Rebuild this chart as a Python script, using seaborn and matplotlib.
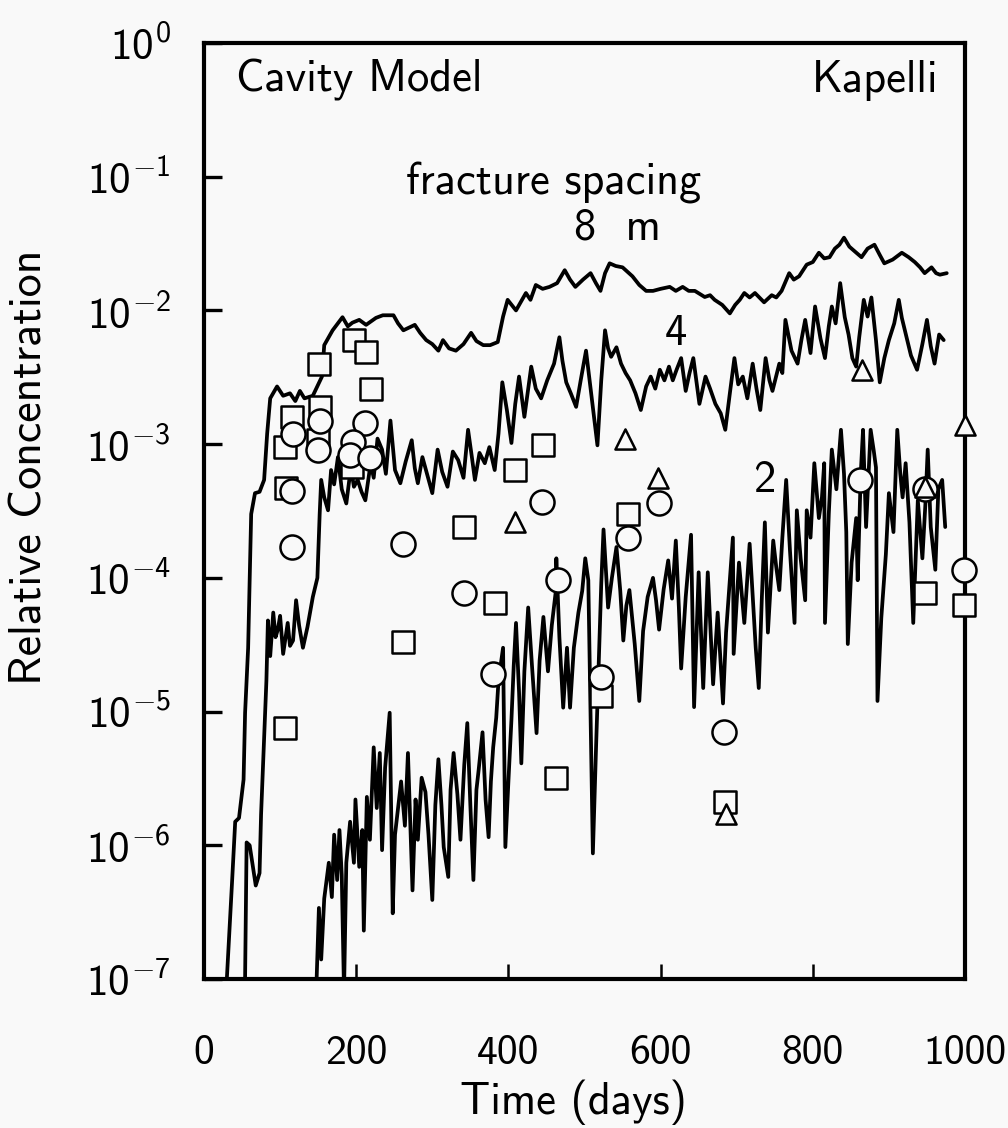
import matplotlib
matplotlib.use("Agg")
import matplotlib.pyplot as plt
import seaborn as sns
import pandas as pd

# ---------------- data ----------------
# (time in days, relative concentration)
line_8m = [(28, 1e-8), (30, 1e-7), (37, 5.5e-7), (41, 1.5e-6), (46, 1.6e-6), (52, 3.1e-6),
           (54, 9.8e-6), (58, 3.0e-5), (60, 9.6e-5), (62, 3.0e-4), (67, 4.3e-4), (73, 4.4e-4),
           (79, 5.4e-4), (83, 1.2e-3), (87, 2.2e-3), (96, 2.7e-3), (104, 2.3e-3), (113, 2.4e-3),
           (120, 2.1e-3), (126, 2.5e-3), (132, 2.2e-3), (143, 2.3e-3), (155, 3.2e-3), (158, 5.5e-3),
           (169, 7.1e-3), (182, 8.9e-3), (189, 7.6e-3), (195, 8.1e-3), (204, 8.5e-3), (213, 7.8e-3),
           (226, 8.8e-3), (235, 9.2e-3), (249, 9.2e-3), (255, 8.0e-3), (262, 7.1e-3), (277, 7.8e-3),
           (284, 6.8e-3), (292, 6.0e-3), (300, 5.6e-3), (308, 5.0e-3), (314, 6.0e-3), (322, 5.2e-3),
           (331, 5.0e-3), (341, 5.6e-3), (351, 6.8e-3), (358, 5.9e-3), (367, 5.5e-3), (376, 5.5e-3),
           (386, 5.8e-3), (393, 9.0e-3), (399, 1.2e-2), (410, 1.0e-2), (423, 1.35e-2), (429, 1.2e-2),
           (436, 1.55e-2), (445, 1.45e-2), (454, 1.5e-2), (464, 1.6e-2), (474, 2.0e-2), (481, 1.7e-2),
           (488, 1.5e-2), (498, 1.7e-2), (508, 1.9e-2), (515, 1.6e-2), (521, 1.4e-2), (527, 1.9e-2),
           (533, 2.25e-2), (541, 2.15e-2), (550, 2.1e-2), (563, 1.8e-2), (572, 1.55e-2), (581, 1.4e-2),
           (590, 1.4e-2), (600, 1.45e-2), (612, 1.5e-2), (620, 1.4e-2), (629, 1.5e-2), (637, 1.4e-2),
           (645, 1.4e-2), (658, 1.26e-2), (665, 1.3e-2), (671, 1.2e-2), (681, 1.1e-2), (691, 9.5e-3),
           (698, 1.1e-2), (704, 1.2e-2), (710, 1.35e-2), (717, 1.25e-2), (724, 1.35e-2), (736, 1.15e-2),
           (746, 1.3e-2), (752, 1.25e-2), (759, 1.4e-2), (769, 1.9e-2), (775, 1.7e-2), (782, 1.8e-2),
           (792, 2.2e-2), (800, 2.3e-2), (808, 2.7e-2), (815, 2.45e-2), (822, 2.5e-2), (829, 2.9e-2),
           (835, 3.1e-2), (841, 3.5e-2), (848, 3.0e-2), (854, 2.8e-2), (864, 2.5e-2), (872, 2.9e-2),
           (881, 3.1e-2), (888, 2.6e-2), (894, 2.25e-2), (905, 2.4e-2), (917, 2.7e-2), (926, 2.5e-2),
           (934, 2.3e-2), (941, 2.1e-2), (947, 1.9e-2), (956, 2.1e-2), (962, 1.9e-2), (967, 1.85e-2),
           (976, 1.9e-2)]

line_4m = [(52, 1e-8), (54, 1e-7), (56, 1.05e-6), (60, 1.0e-6), (68, 5.0e-7), (73, 6.2e-7), (75, 1.7e-6),
           (78, 4.6e-6), (82, 1.7e-5), (84, 4.8e-5), (87, 2.6e-5), (91, 5.5e-5), (94, 3.6e-5), (97, 4.1e-5),
           (100, 5.2e-5), (104, 2.7e-5), (110, 4.6e-5), (113, 3.1e-5), (117, 3.4e-5), (121, 6.8e-5),
           (125, 4.4e-5), (130, 3.0e-5), (136, 4.3e-5), (143, 7.2e-5), (149, 1.0e-4), (152, 3.0e-4),
           (154, 5.4e-4), (158, 4.0e-4), (163, 3.2e-4), (167, 6.4e-4), (171, 5.0e-4), (176, 8.0e-4),
           (181, 4.6e-4), (187, 3.6e-4), (193, 6.7e-4), (197, 4.8e-4), (202, 5.4e-4), (207, 4.4e-4),
           (212, 3.8e-4), (219, 7.2e-4), (223, 5.6e-4), (228, 1.1e-3), (234, 9.1e-4), (239, 6.0e-4),
           (245, 1.5e-3), (251, 6.4e-4), (258, 5.1e-4), (265, 7.4e-4), (273, 1.07e-3), (277, 6.6e-4),
           (281, 5.1e-4), (287, 8.0e-4), (293, 6.0e-4), (300, 4.3e-4), (307, 9.1e-4), (313, 6.2e-4),
           (320, 4.8e-4), (327, 8.8e-4), (334, 7.6e-4), (341, 5.6e-4), (347, 1.28e-3), (352, 8.0e-4),
           (356, 5.4e-4), (362, 8.6e-4), (369, 7.2e-4), (375, 9.5e-4), (382, 6.4e-4), (387, 1.2e-3),
           (392, 2.9e-3), (398, 1.8e-3), (404, 1.02e-3), (409, 2.0e-3), (414, 3.2e-3), (421, 1.6e-3),
           (426, 2.6e-3), (430, 3.8e-3), (436, 2.6e-3), (443, 2.2e-3), (451, 3.0e-3), (460, 4.0e-3),
           (467, 6.3e-3), (471, 4.2e-3), (476, 2.9e-3), (482, 2.4e-3), (489, 1.9e-3), (495, 3.0e-3),
           (502, 5.0e-3), (508, 2.6e-3), (517, 9.8e-4), (522, 3.0e-3), (527, 7.1e-3), (531, 5.2e-3),
           (535, 4.5e-3), (542, 5.3e-3), (548, 4.0e-3), (554, 3.4e-3), (560, 3.0e-3), (567, 2.4e-3),
           (574, 1.8e-3), (581, 2.7e-3), (587, 3.2e-3), (593, 2.6e-3), (599, 3.6e-3), (605, 3.0e-3),
           (611, 3.8e-3), (616, 3.0e-3), (621, 3.6e-3), (627, 4.4e-3), (633, 2.5e-3), (638, 3.4e-3),
           (643, 4.4e-3), (651, 2.0e-3), (659, 3.2e-3), (665, 2.6e-3), (672, 2.0e-3), (679, 1.7e-3),
           (685, 1.28e-3), (691, 2.4e-3), (697, 4.4e-3), (702, 2.8e-3), (708, 3.2e-3), (714, 2.2e-3),
           (721, 4.0e-3), (726, 2.6e-3), (731, 1.8e-3), (738, 4.4e-3), (743, 3.0e-3), (747, 2.5e-3),
           (756, 4.0e-3), (760, 3.4e-3), (764, 8.5e-3), (772, 5.0e-3), (780, 4.0e-3), (785, 6.0e-3),
           (790, 8.5e-3), (797, 4.8e-3), (803, 1.07e-2), (810, 6.2e-3), (816, 4.4e-3), (821, 7.6e-3),
           (825, 1.07e-2), (830, 8.0e-3), (836, 1.6e-2), (842, 8.9e-3), (847, 6.6e-3), (852, 4.4e-3),
           (857, 3.8e-3), (861, 6.3e-3), (867, 1.2e-2), (872, 9.0e-3), (877, 1.25e-2), (883, 6.0e-3),
           (888, 2.9e-3), (894, 4.4e-3), (900, 6.0e-3), (907, 8.0e-3), (913, 1.2e-2), (917, 8.8e-3),
           (921, 7.1e-3), (929, 4.6e-3), (937, 3.6e-3), (944, 5.6e-3), (950, 8.5e-3), (955, 5.4e-3),
           (960, 4.0e-3), (966, 6.6e-3), (972, 6.0e-3)]

line_2m = [(146, 1e-8), (148, 1e-7), (151, 3.4e-7), (154, 1.4e-7), (158, 4.0e-7), (164, 7.4e-7), (168, 4.1e-7),
           (171, 1.2e-6), (175, 5.5e-7), (178, 1.3e-6), (181, 6.0e-7), (184, 8e-8), (187, 7.4e-7),
           (192, 1.5e-6), (197, 7.4e-7), (199, 2.2e-6), (204, 6.9e-7), (208, 1.3e-6), (210, 2.3e-7),
           (214, 2.3e-6), (218, 1.1e-6), (223, 5.4e-6), (227, 1.9e-6), (231, 4.9e-6), (234, 9.2e-7),
           (238, 3.8e-6), (244, 9.8e-6), (248, 3.1e-7), (251, 1.2e-6), (254, 1.7e-6), (259, 3.0e-6),
           (264, 1.4e-6), (268, 4.9e-6), (274, 4.6e-7), (278, 2.2e-6), (281, 1.1e-6), (286, 3.2e-6),
           (291, 2.5e-6), (295, 1.2e-6), (300, 3.9e-7), (304, 2.0e-6), (308, 4.4e-6), (312, 2.0e-6),
           (315, 9.7e-7), (321, 5.8e-7), (324, 2.6e-6), (328, 4.9e-6), (333, 2.4e-6), (337, 1.1e-6),
           (342, 4.0e-6), (346, 8.2e-6), (350, 2.0e-6), (354, 5.5e-7), (358, 2.6e-6), (361, 3.7e-6),
           (366, 7.0e-6), (370, 2.2e-6), (374, 1.15e-6), (377, 3.0e-6), (380, 5.4e-6), (384, 9.0e-6),
           (387, 1.7e-5), (393, 3.0e-5), (396, 9.7e-7), (400, 3.0e-6), (404, 8.7e-6), (407, 2.2e-5),
           (410, 4.6e-5), (414, 1.4e-5), (417, 4.1e-6), (421, 2.0e-5), (426, 6.0e-5), (431, 2.2e-5),
           (437, 6.9e-6), (441, 2.4e-5), (446, 5.1e-5), (452, 2.0e-5), (457, 4.4e-5), (462, 7.7e-5),
           (463, 1.4e-4), (467, 3.6e-5), (472, 1.07e-5), (477, 3.0e-5), (481, 1.07e-5), (486, 3.0e-5),
           (492, 5.5e-5), (497, 8.0e-5), (501, 1.4e-4), (505, 9.6e-5), (511, 8.7e-7), (515, 5.0e-6),
           (518, 1.7e-5), (522, 9.0e-5), (525, 2.3e-4), (531, 6.0e-5), (536, 1.0e-4), (542, 1.7e-4),
           (547, 8.0e-5), (551, 3.4e-5), (555, 6.2e-5), (559, 8.1e-5), (566, 3.2e-5), (572, 1.2e-5),
           (577, 4.0e-5), (583, 7.2e-5), (590, 1.0e-4), (594, 6.8e-5), (598, 4.1e-5), (604, 8.2e-5),
           (610, 1.35e-4), (615, 7.0e-5), (620, 1.9e-4), (624, 6.0e-5), (627, 2.1e-5), (633, 7.2e-5),
           (640, 2.1e-4), (644, 1.08e-5), (650, 1.1e-4), (656, 1.5e-5), (662, 1.1e-4), (669, 1.6e-5),
           (675, 5.5e-5), (682, 1.15e-5), (686, 3.9e-5), (690, 8.0e-5), (695, 2.0e-4), (696, 2.7e-5),
           (703, 1.3e-4), (710, 4.6e-5), (717, 1.8e-4), (725, 3.0e-5), (729, 1.5e-5), (733, 7.0e-5),
           (737, 2.6e-4), (741, 3.9e-5), (748, 1.9e-4), (752, 1.2e-4), (756, 8.1e-5), (760, 2.0e-4),
           (765, 5.4e-4), (770, 1.6e-4), (776, 4.6e-5), (779, 3.2e-4), (784, 1.4e-4), (790, 6.8e-5),
           (792, 3.2e-4), (797, 2.0e-4), (802, 7.2e-4), (808, 2.8e-4), (812, 4.0e-4), (815, 7.2e-4),
           (816, 4.6e-5), (821, 3.0e-4), (825, 9.1e-4), (831, 4.6e-4), (837, 1.28e-3), (841, 6.0e-4),
           (844, 2.2e-4), (846, 3.2e-5), (851, 1.3e-4), (857, 2.8e-4), (859, 9.6e-5), (863, 6.0e-4),
           (866, 1.28e-3), (870, 2.4e-4), (876, 1.28e-3), (880, 9.0e-4), (883, 6.7e-4), (885, 1.2e-5),
           (890, 5.0e-5), (896, 1.5e-4), (900, 4.3e-4), (906, 2.2e-4), (911, 1.28e-3), (915, 6.0e-4),
           (918, 4.0e-4), (922, 7.2e-4), (927, 2.6e-4), (932, 4.6e-5), (938, 3.8e-4), (944, 1.4e-4),
           (948, 3.6e-4), (951, 9.1e-4), (955, 2.4e-4), (961, 1.15e-4), (965, 4.6e-4), (970, 5.4e-4),
           (974, 2.4e-4)]

obs_squares = [(151, 4.0e-3), (197, 6.0e-3), (213, 4.9e-3), (219, 2.6e-3), (116, 1.6e-3), (106, 9.5e-4),
               (152, 1.9e-3), (150, 1.07e-3), (108, 4.7e-4), (195, 6.7e-4), (445, 9.8e-4), (409, 6.4e-4),
               (106, 7.5e-6), (262, 3.3e-5), (342, 2.4e-4), (382, 6.5e-5), (462, 3.2e-6), (557, 3.0e-4),
               (522, 1.3e-5), (685, 2.1e-6), (947, 7.7e-5), (999, 6.3e-5)]

obs_circles = [(117, 1.2e-3), (153, 1.5e-3), (150, 9.1e-4), (115, 4.5e-4), (116, 1.7e-4), (212, 1.45e-3),
               (196, 1.04e-3), (192, 8.3e-4), (218, 7.9e-4), (262, 1.8e-4), (444, 3.7e-4), (341, 7.7e-5),
               (380, 1.9e-5), (465, 9.6e-5), (522, 1.8e-5), (557, 2.0e-4), (598, 3.6e-4), (683, 7.0e-6),
               (862, 5.4e-4), (947, 4.6e-4), (999, 1.15e-4)]

obs_triangles = [(409, 2.6e-4), (553, 1.1e-3), (597, 5.6e-4), (864, 3.6e-3), (1000, 1.4e-3),
                 (947, 4.8e-4), (686, 1.7e-6)]

y_ticks = [1e-7, 1e-6, 1e-5, 1e-4, 1e-3, 1e-2, 1e-1, 1e0]
y_ticklabels = [r"$10^{-7}$", r"$10^{-6}$", r"$10^{-5}$", r"$10^{-4}$",
                r"$10^{-3}$", r"$10^{-2}$", r"$10^{-1}$", r"$10^{0}$"]
x_ticks = [0, 200, 400, 600, 800, 1000]
x_ticklabels = ["0", "200", "400", "600", "800", "1000"]

# ---------------- style ----------------
BG = "#f9f9f9"
FS = 32
sns.set_theme(style="ticks")
plt.rcParams.update({
    "font.family": ["cmss10", "DejaVu Sans"],
    "mathtext.fontset": "custom",
    "mathtext.rm": "cmss10",
    "mathtext.sf": "cmss10",
    "mathtext.it": "cmss10",
    "mathtext.bf": "cmss10",
    "axes.unicode_minus": True,
    "axes.linewidth": 3.0,
    "xtick.direction": "in",
    "ytick.direction": "in",
    "xtick.major.size": 11,
    "ytick.major.size": 13,
    "xtick.major.width": 1.8,
    "ytick.major.width": 2.4,
    "axes.edgecolor": "black",
    "xtick.color": "black",
    "ytick.color": "black",
    "text.color": "black",
    "axes.labelcolor": "black",
})

fig = plt.figure(figsize=(10.08, 11.28), dpi=100, facecolor=BG)
ax = fig.add_axes([204 / 1008, 1 - 979 / 1128, 761 / 1008, 936 / 1128])
ax.set_facecolor(BG)

for name, series in [("8", line_8m), ("4", line_4m), ("2", line_2m)]:
    df = pd.DataFrame(series, columns=["t", "c"])
    sns.lineplot(data=df, x="t", y="c", ax=ax, color="black", linewidth=2.7,
                 estimator=None, sort=False, zorder=2)

for mk, pts, size in [("s", obs_squares, 270), ("o", obs_circles, 300), ("^", obs_triangles, 210)]:
    df = pd.DataFrame(pts, columns=["t", "c"])
    sns.scatterplot(data=df, x="t", y="c", ax=ax, marker=mk, s=size,
                    facecolor=BG, edgecolor="black", linewidth=1.8, zorder=3, clip_on=False)

ax.set_yscale("log")
ax.set_ylim(1e-7, 1)
ax.set_xlim(0, 1000)
ax.set_yticks(y_ticks)
ax.set_yticklabels(y_ticklabels)
ax.yaxis.set_minor_locator(matplotlib.ticker.NullLocator())
ax.set_xticks(x_ticks)
ax.set_xticklabels(x_ticklabels)
ax.tick_params(axis="y", labelsize=31, pad=24)
ax.tick_params(axis="x", labelsize=30, pad=40)
for s in ax.spines.values():
    s.set_visible(True)

ax.set_xlabel("Time (days)", fontsize=32)
ax.set_ylabel("Relative Concentration", fontsize=33)
ax.xaxis.set_label_coords(0.485, -0.132)
ax.yaxis.set_label_coords(-0.229, 0.547)
ax.xaxis.label.set_va("center")
ax.yaxis.label.set_va("center")

tf = ax.transAxes
ax.text(0.042, 0.960, "Cavity Model", transform=tf, fontsize=FS, ha="left", va="center")
ax.text(0.965, 0.960, "Kapelli", transform=tf, fontsize=FS, ha="right", va="center")
ax.text(0.460, 0.850, "fracture spacing", transform=tf, fontsize=FS, ha="center", va="center")
ax.text(0.543, 0.802, "8  m", transform=tf, fontsize=FS, ha="center", va="center")
ax.text(0.620, 0.690, "4", transform=tf, fontsize=FS, ha="center", va="center")
ax.text(0.736, 0.533, "2", transform=tf, fontsize=FS, ha="center", va="center")

fig.savefig("out.png", dpi=100, facecolor=BG)
